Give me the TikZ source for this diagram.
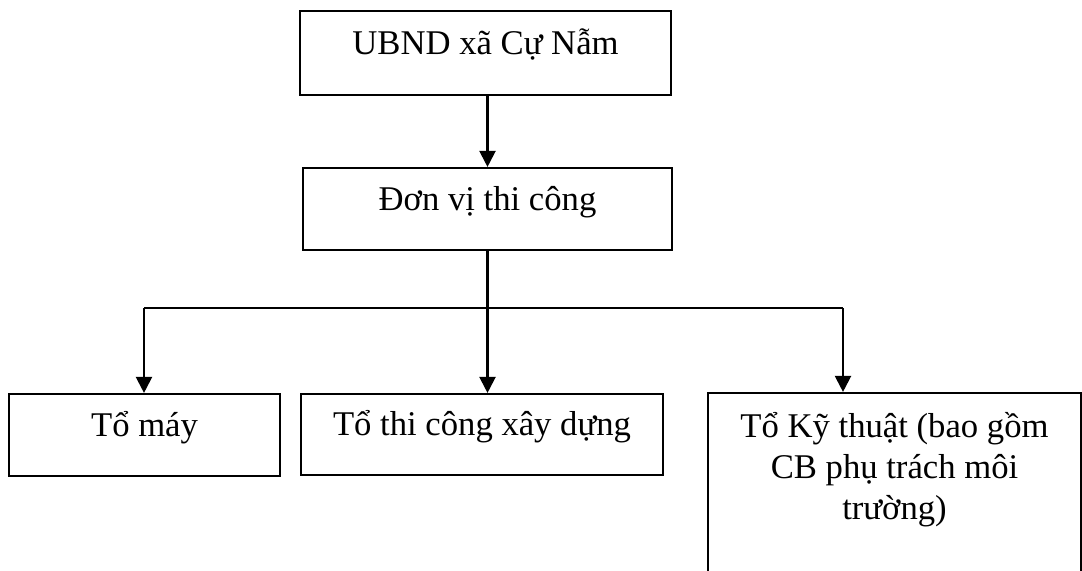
\documentclass[tikz,border=0pt]{standalone}
\usepackage{fontspec}
\setmainfont{Liberation Serif}
\usetikzlibrary{calc,arrows.meta}

\begin{document}
\begin{tikzpicture}[x=0.75pt,y=-0.75pt,
  box/.style={draw=black,line width=1.6pt,inner sep=0pt,rectangle},
  lbl/.style={inner sep=0pt,font=\fontsize{26}{31}\selectfont},
  conn/.style={draw=black,line width=1.6pt},
  arr/.style={conn,-{Triangle[length=12pt,width=12pt]}}]
\useasboundingbox (0,0) rectangle (1082,571);
\clip (0,0) rectangle (1082,571);

% boxes
\node[box,minimum width=278.25pt,minimum height=63pt] (top)  at (485.5,53) {};
\node[box,minimum width=276.75pt,minimum height=61.5pt] (mid) at (487.5,209) {};
\node[box,minimum width=203.25pt,minimum height=61.5pt] (left) at (144.5,435) {};
\node[box,minimum width=271.5pt,minimum height=60.75pt] (cen) at (482,434.5) {};
\node[box,minimum width=279.75pt,minimum height=170.25pt] (right) at (894.5,506.5) {};

% labels
\node[lbl,anchor=base] (ttop)  at ($(top.north)+(0,45)$) {UBND xã Cự Nẫm};
\node[lbl,anchor=base] (tmid)  at ($(mid.north)+(0,44)$) {Đơn vị thi công};
\node[lbl,anchor=base] (tleft) at ($(left.north)+(0,44)$) {Tổ máy};
\node[lbl,anchor=base] (tcen)  at ($(cen.north)+(0,43)$) {Tổ thi công xây dựng};
% multi-line label: base anchor sits on the last line
\node[lbl,anchor=base,align=center] (tright) at ($(right.north)+(0,128)$)
  {Tổ Kỹ thuật (bao gồm\\CB phụ trách môi\\trường)};

% connectors
\coordinate (jl) at (144,308);
\coordinate (jr) at (843,308);
\draw[arr] (top.south -| mid.south) -- (mid.north);
\draw[arr] (mid.south) -- (mid.south |- cen.north);
\draw[conn] (jl) -- (jr);
\draw[arr] (jl) -- (jl |- left.north);
\draw[arr] (jr) -- (jr |- right.north);
\end{tikzpicture}
\end{document}
